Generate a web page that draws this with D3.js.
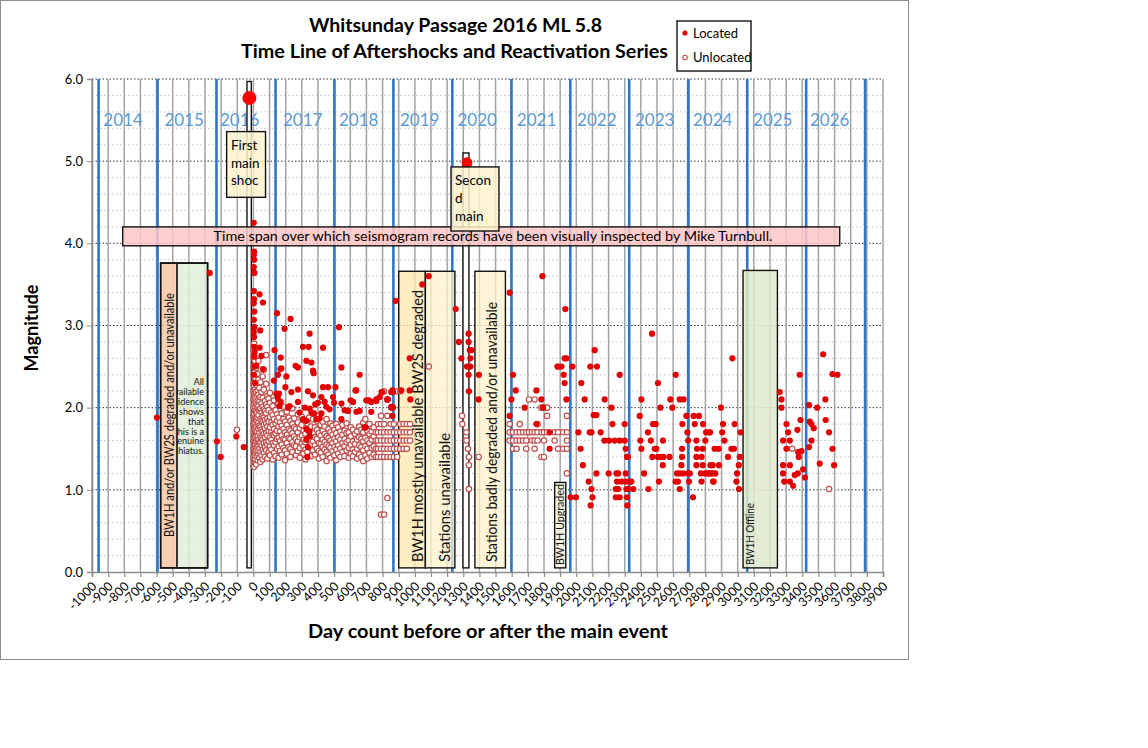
<!DOCTYPE html>
<html>
<head>
<meta charset="utf-8">
<script src="https://cdn.jsdelivr.net/npm/d3@7"></script>
<style>
  body { margin: 0; background: #fff; }
  text { font-family: Lato, "Open Sans", sans-serif; }
</style>
</head>
<body>
<div id="chart"></div>
<script>
// ---- data ----
var xTicks = [-1000,-900,-800,-700,-600,-500,-400,-300,-200,-100,0,100,200,300,400,500,600,700,800,900,
  1000,1100,1200,1300,1400,1500,1600,1700,1800,1900,2000,2100,2200,2300,2400,2500,2600,2700,2800,2900,
  3000,3100,3200,3300,3400,3500,3600,3700,3800,3900];
var yTicks = [0,1,2,3,4,5,6];
var yMinor = [0.2,0.4,0.6,0.8,1.2,1.4,1.6,1.8,2.2,2.4,2.6,2.8,3.2,3.4,3.6,3.8,4.2,4.4,4.6,4.8,5.2,5.4,5.6,5.8];

// first day of each calendar year, counted from the main event
var yearStarts = [-959,-594,-229,137,502,867,1232,1598,1963,2328,2693,3059,3424,3789];
var yearLabels = ["2014","2015","2016","2017","2018","2019","2020","2021","2022","2023","2024","2025","2026"];
var yearLabelDays = [-808,-429,-85,305,652,1030,1386,1754,2127,2486,2845,3217,3570];

var mainShocks = [[-25,5.77],[1323,4.98]];

var located = [
  [-598,1.88],[-271,3.64],[-226,1.59],[-203,1.40],[-106,1.65],[-60,1.52],
  [2,4.25],[4,3.90],[3,3.86],[5,3.80],[2,3.71],[6,3.64],[3,3.42],[4,3.32],[2,3.27],[5,3.17],[3,3.07],
  [6,2.98],[2,2.92],[4,2.86],[3,2.74],[8,2.68],[5,2.62],[7,2.50],[3,2.40],[10,2.30],
  [38,3.38],[59,3.28],[42,2.94],[38,2.73],[49,2.63],[18,2.51],[59,2.47],
  [146,3.15],[230,3.08],[193,2.96],[131,2.70],[169,2.61],[173,2.48],[152,2.40],[198,2.25],[276,2.22],
  [348,2.90],[307,2.74],[342,2.74],[431,2.73],[328,2.57],[359,2.55],[261,2.51],[276,2.49],[369,2.45],
  [373,2.42],[545,2.49],[658,2.40],[530,2.98],[167,2.47],[204,2.38],[127,2.33],
  [431,2.25],[462,2.25],[338,2.20],[235,2.19],[508,2.25],[632,2.21],[793,2.19],[865,2.19],[142,2.17],
  [158,2.17],[493,2.13],[369,2.15],[421,2.13],[602,2.09],[617,2.07],[714,2.09],[730,2.07],[762,2.08],
  [782,2.13],[829,2.10],[276,2.07],[152,2.11],[169,2.07],[441,2.07],[499,2.06],[545,2.05],[383,2.04],
  [400,2.06],[224,2.02],[214,2.00],[162,2.02],[318,2.00],[348,1.99],[452,2.01],[472,1.98],[565,1.97],
  [586,1.96],[638,1.95],[658,1.96],[286,1.94],[359,1.94],[375,1.93],[421,1.93],[307,1.86],[328,1.84],
  [390,1.86],[410,1.87],[545,1.86],[689,1.76],[328,1.74],[348,1.71],[348,1.65],[328,1.61],[338,1.52],
  [334,1.40],[637,2.21],[699,2.09],[720,2.08],[761,2.10],[854,2.19],[854,2.01],[695,1.76],[730,1.95],
  [861,2.21],[861,2.01],
  [881,3.30],[799,2.19],[833,2.10],[854,2.00],[864,2.00],[861,1.90],[916,2.21],[968,2.21],[972,2.10],
  [968,2.60],[1046,3.50],[1086,3.60],
  [1253,3.20],[1273,2.80],[1288,2.60],[1333,2.90],[1333,2.80],[1340,2.70],[1350,2.70],[1344,2.60],
  [1323,2.50],[1344,2.50],[1333,2.40],[1335,2.20],[1397,2.40],[1395,2.10],
  [1587,3.40],[1608,2.40],[1625,2.21],[1598,2.10],[1587,1.90],[1680,2.00],[1753,2.21],[1784,2.10],
  [1790,3.60],[1753,1.80],[1835,1.70],[1835,1.50],[1794,2.00],[1883,2.50],
  [1932,3.20],[1939,2.60],[1928,2.60],[1887,2.50],[1908,2.50],[1922,2.40],[1928,2.30],[1939,2.10],
  [1976,2.50],[1965,0.91],[1998,0.91],[2031,2.30],[2052,2.10],[2013,1.70],[2027,1.50],[2041,1.30],
  [2077,1.10],[2094,1.01],[2100,0.91],[2089,0.81],[2114,2.70],[2087,2.50],[2128,2.50],[2108,1.91],
  [2125,1.91],[2083,1.70],[2094,1.70],[2151,1.70],[2125,1.20],[2176,2.10],[2174,1.60],[2203,1.60],
  [2218,2.00],[2224,1.80],[2201,1.20],[2249,1.20],[2259,1.20],[2269,2.40],[2238,1.60],[2269,1.60],
  [2300,1.60],[2252,1.10],[2280,1.10],[2306,1.10],[2327,1.10],[2341,1.10],[2245,1.01],[2259,1.01],
  [2310,1.01],[2320,1.01],[2353,1.01],[2245,0.91],[2269,0.91],[2314,0.91],[2316,0.81],[2300,1.80],
  [2306,1.50],[2314,1.40],[2320,1.40],[2306,1.20],
  [2393,1.90],[2403,2.10],[2397,1.60],[2403,1.50],[2420,1.20],[2444,1.70],[2462,1.60],[2471,1.40],
  [2447,1.01],[2469,2.90],[2475,1.80],[2492,1.80],[2486,1.50],[2496,1.50],[2506,2.30],[2521,2.00],
  [2506,1.40],[2527,1.40],[2540,1.40],[2536,1.30],[2537,1.60],[2512,1.10],[2578,1.40],[2583,2.10],
  [2595,2.00],[2616,2.40],[2641,2.10],[2665,2.10],[2657,1.80],[2655,1.50],[2655,1.40],[2651,1.30],
  [2641,1.20],[2624,1.20],[2662,1.20],[2616,1.10],[2630,1.10],[2641,1.01],
  [2682,1.90],[2688,1.70],[2693,1.60],[2693,1.20],[2703,1.20],[2698,1.10],[2723,0.91],[2727,1.90],
  [2760,1.90],[2734,1.80],[2785,1.80],[2744,1.60],[2748,1.50],[2783,1.50],[2744,1.40],[2776,1.40],
  [2744,1.30],[2783,1.30],[2772,1.20],[2776,1.10],[2804,1.70],[2829,1.70],[2799,1.60],[2799,1.20],
  [2820,1.20],[2841,1.20],[2861,1.20],[2851,1.10],[2845,1.30],[2896,2.00],
  [2967,2.60],[2909,1.80],[2981,1.80],[2821,1.70],[2904,1.70],[3017,1.70],[2918,1.60],[2857,1.50],
  [2882,1.50],[2961,1.50],[2977,1.50],[2940,1.40],[3013,1.40],[2831,1.30],[2883,1.30],[3007,1.30],
  [2816,1.20],[2837,1.20],[2996,1.20],[2847,1.10],[2992,1.10],[3008,1.01],
  [3260,2.19],[3271,2.10],[3271,2.00],[3302,1.80],[3312,1.70],[3281,1.60],[3323,1.60],[3302,1.50],
  [3281,1.30],[3323,1.30],[3281,1.20],[3288,1.10],[3323,1.10],[3343,1.05],[3353,1.18],[3372,1.20],
  [3370,1.73],[3389,1.85],[3384,2.40],[3374,1.46],[3395,1.47],[3378,1.40],[3405,1.25],[3417,1.15],
  [3442,2.03],[3446,1.83],[3457,1.80],[3471,1.75],[3457,1.60],[3442,1.52],[3492,2.00],[3508,1.32],
  [3529,2.65],[3543,2.10],[3545,1.85],[3566,1.70],[3587,2.41],[3618,2.40],[3587,1.50],[3597,1.30]
];

// unlocated events, grouped by day: [day, [magnitudes]]
var unlocatedByDay = [
  [-102,[1.73]],
  [1,[1.30,1.40,1.50,1.60,1.70,1.80,1.90,2.00,2.10,2.20,2.30,2.40,2.50,2.60,2.70]],
  [4,[1.28,1.36,1.47,1.55,1.63,1.74,1.83,1.92,2.04,2.15,2.26,2.38,2.51,2.63,2.78]],
  [8,[1.33,1.42,1.51,1.58,1.67,1.78,1.86,1.97,2.08,2.18,2.31,2.44,2.57]],
  [12,[1.37,1.45,1.55,1.64,1.72,1.81,1.89,2.01,2.12,2.23,2.36]],
  [16,[1.31,1.48,1.59,1.69,1.77,1.87,1.95,2.06,2.19,2.29,2.48]],
  [21,[1.41,1.52,1.62,1.71,1.84,1.93,2.03,2.14,2.27]],
  [26,[1.36,1.47,1.56,1.66,1.79,1.88,2.00,2.09,2.21,2.41]],
  [31,[1.43,1.53,1.61,1.74,1.82,1.91,2.02,2.16,2.34,2.57]],
  [37,[1.39,1.50,1.58,1.69,1.78,1.97,2.08,2.24]],
  [43,[1.34,1.46,1.57,1.65,1.76,1.86,1.99,2.13,2.31]],
  [50,[1.42,1.54,1.63,1.73,1.84,1.94,2.05,2.19]],
  [57,[1.37,1.49,1.61,1.71,1.82,1.90,2.01,2.12,2.38]],
  [64,[1.45,1.57,1.68,1.79,1.88,1.98,2.22,2.46]],
  [71,[1.40,1.52,1.64,1.75,1.85,1.96,2.08]],
  [79,[1.48,1.58,1.69,1.81,1.93,2.04,2.29,2.64]],
  [86,[1.38,1.55,1.66,1.77,1.87,2.01,2.14]],
  [94,[1.46,1.59,1.72,1.83,1.97,2.11]],
  [102,[1.42,1.53,1.64,1.76,1.89,2.06,2.18]],
  [111,[1.49,1.61,1.70,1.82,1.94]],
  [119,[1.37,1.57,1.67,1.79,1.91,2.02]],
  [128,[1.45,1.54,1.66,1.74,1.86,2.09]],
  [137,[1.41,1.58,1.69,1.81,1.97]],
  [146,[1.50,1.62,1.72,1.84,1.92]],
  [156,[1.39,1.53,1.64,1.77,1.88,2.05]],
  [165,[1.47,1.59,1.71,1.82]],
  [175,[1.43,1.55,1.66,1.78,1.93]],
  [186,[1.51,1.62,1.74,1.86,2.01]],
  [196,[1.36,1.48,1.61,1.70,1.83]],
  [207,[1.44,1.57,1.67,1.79,1.95]],
  [218,[1.52,1.63,1.74,1.88]],
  [229,[1.40,1.50,1.62,1.72,1.84]],
  [241,[1.46,1.58,1.69,1.80,1.99]],
  [252,[1.54,1.65,1.76,1.87]],
  [263,[1.42,1.53,1.62,1.74]],
  [275,[1.47,1.59,1.70,1.82,1.92]],
  [287,[1.39,1.51,1.64,1.75]],
  [299,[1.56,1.66,1.79,1.89]],
  [311,[1.44,1.53,1.61,1.72]],
  [322,[1.37,1.49,1.58,1.68,1.83]],
  [334,[1.46,1.63,1.73,1.81]],
  [346,[1.52,1.60,1.71,1.88]],
  [357,[1.41,1.55,1.67,1.77]],
  [369,[1.48,1.59,1.70,1.86]],
  [381,[1.43,1.54,1.64,1.76]],
  [393,[1.50,1.62,1.73,1.84]],
  [405,[1.38,1.47,1.57,1.69,1.90]],
  [417,[1.45,1.56,1.66,1.79]],
  [429,[1.40,1.52,1.61,1.72,1.83]],
  [441,[1.49,1.58,1.68,1.77]],
  [453,[1.35,1.46,1.55,1.65,1.86]],
  [465,[1.43,1.53,1.63,1.74]],
  [477,[1.39,1.51,1.60,1.70,1.81]],
  [489,[1.47,1.57,1.67,1.78]],
  [501,[1.42,1.52,1.62,1.73]],
  [513,[1.36,1.49,1.59,1.69,1.80]],
  [525,[1.44,1.54,1.64,1.76]],
  [538,[1.40,1.50,1.61,1.71]],
  [551,[1.46,1.57,1.67,1.79]],
  [564,[1.41,1.53,1.62,1.72]],
  [577,[1.48,1.58,1.69,1.81]],
  [590,[1.39,1.51,1.60,1.70]],
  [603,[1.44,1.55,1.65,1.76]],
  [616,[1.41,1.49,1.59,1.73]],
  [629,[1.46,1.56,1.68]],
  [642,[1.38,1.50,1.61,1.71]],
  [655,[1.43,1.54,1.64,1.77]],
  [668,[1.40,1.52,1.62,1.73]],
  [680,[1.35,1.48,1.59,1.70,1.82]],
  [693,[1.42,1.53,1.63,1.76,1.86]],
  [706,[1.38,1.50,1.60,1.72]],
  [719,[1.45,1.57,1.68,1.80]],
  [732,[1.40,1.51,1.61,1.71]],
  [745,[1.43,1.53,1.65,1.76]],
  [758,[1.40,1.50,1.60,1.70]],
  [771,[1.40,1.50,1.60,1.70,1.80]],
  [790,[0.70,1.40,1.50,1.60,1.70,1.80,1.90]],
  [810,[0.70,1.40,1.50,1.60,1.70,1.80,2.20]],
  [830,[0.90,1.40,1.50,1.60,1.70,1.90,2.10]],
  [850,[1.40,1.50,1.60,1.70,1.80]],
  [870,[1.40,1.50,1.60,1.70,1.80]],
  [890,[1.40,1.50,1.60,1.70,2.20]],
  [910,[1.50,1.60,1.70,1.80,2.20]],
  [930,[1.50,1.60,1.70,1.80]],
  [950,[1.50,1.60,1.70,1.80]],
  [970,[1.60,1.70,1.80]],
  [1086,[2.50]],
  [1292,[1.90]],[1294,[1.80]],[1319,[1.60,1.70]],[1329,[1.50]],[1335,[1.01,1.30,1.40]],[1395,[1.40]],
  [1587,[1.60,1.70,1.80]],[1608,[1.50,1.60,1.70]],[1630,[1.50,1.60,1.70]],[1650,[1.60,1.70,1.80]],
  [1670,[1.60,1.70]],[1690,[1.50,1.60,1.70]],[1707,[1.70,2.10]],[1725,[1.60,1.70]],
  [1742,[1.50,1.60,1.70,2.10]],[1760,[1.60,1.70,1.80]],[1784,[1.40,1.70,2.00]],
  [1800,[1.40,1.60,1.70,2.00]],[1819,[1.70,1.90,2.00]],[1866,[1.60,1.70]],[1887,[1.50,1.70]],
  [1918,[1.50,1.70]],[1942,[1.20,1.50,1.60,1.70,1.90]],
  [3337,[1.50]],[3566,[1.01]]
];

// ---- layout ----
var W = 1148, H = 748;
var x = d3.scaleLinear().domain([-1000, 3900]).range([92, 883]);
var y = d3.scaleLinear().domain([0, 6]).range([572, 79]);

var svg = d3.select("#chart").append("svg")
    .attr("width", W)
    .attr("height", H);

// outer chart frame
svg.append("rect")
    .attr("x", 0.5).attr("y", 0.5)
    .attr("width", 908).attr("height", 659)
    .attr("fill", "#fff")
    .attr("stroke", "#8c8c8c");

var plot = svg.append("g");

// horizontal grid
plot.selectAll(".minor").data(yMinor).enter().append("line")
    .attr("x1", x(-1000)).attr("x2", x(3900))
    .attr("y1", function(d){ return y(d); }).attr("y2", function(d){ return y(d); })
    .attr("stroke", "#c4c4c4").attr("stroke-width", 1)
    .attr("stroke-dasharray", "1.5,2.5");

plot.selectAll(".major").data(yTicks.slice(1)).enter().append("line")
    .attr("x1", x(-1000)).attr("x2", x(3900))
    .attr("y1", function(d){ return y(d); }).attr("y2", function(d){ return y(d); })
    .attr("stroke", "#333").attr("stroke-width", 1)
    .attr("stroke-dasharray", "1.5,2");

// vertical grid every 100 days
plot.selectAll(".vgrid").data(xTicks).enter().append("line")
    .attr("x1", function(d){ return x(d); }).attr("x2", function(d){ return x(d); })
    .attr("y1", y(0)).attr("y2", y(6))
    .attr("stroke", "#a3a3a3").attr("stroke-width", 1.5);

// year boundaries
plot.selectAll(".year").data(yearStarts).enter().append("line")
    .attr("x1", function(d){ return x(d); }).attr("x2", function(d){ return x(d); })
    .attr("y1", y(0)).attr("y2", y(6))
    .attr("stroke", "#2f77c6").attr("stroke-width", 2.6);

plot.selectAll(".ylab").data(yearLabels).enter().append("text")
    .attr("x", function(d, i){ return x(yearLabelDays[i]); })
    .attr("y", y(5.5) + 6)
    .attr("text-anchor", "middle")
    .attr("font-size", 17)
    .attr("fill", "#5b9bd5")
    .text(function(d){ return d; });

// axes
var xAxis = svg.append("g")
    .attr("transform", "translate(0," + y(0) + ")")
    .call(d3.axisBottom(x).tickValues(xTicks).tickSize(5).tickFormat(function(d){ return String(d); }));
xAxis.select(".domain").attr("stroke", "#8c8c8c").attr("stroke-width", 1.5);
xAxis.selectAll(".tick line").attr("stroke", "#8c8c8c").attr("stroke-width", 1.2);
xAxis.selectAll(".tick text")
    .attr("font-family", "Lato, sans-serif")
    .attr("font-size", 12.5)
    .attr("fill", "#000")
    .attr("text-anchor", "end")
    .attr("dy", null)
    .attr("y", 0)
    .attr("transform", "translate(5,15) rotate(-45)");

var yAxis = svg.append("g")
    .attr("transform", "translate(" + x(-1000) + ",0)")
    .call(d3.axisLeft(y).tickValues(yTicks).tickSize(5).tickFormat(d3.format(".1f")));
yAxis.select(".domain").attr("stroke", "#8c8c8c").attr("stroke-width", 1.5);
yAxis.selectAll(".tick line").attr("stroke", "#8c8c8c");
yAxis.selectAll(".tick text")
    .attr("font-family", "Lato, sans-serif")
    .attr("font-size", 13)
    .attr("fill", "#000")
    .attr("x", -9);

// ---- annotation boxes (under the points) ----
var notes = svg.append("g");

function box(x0, x1, m0, m1, fill, op) {
  return notes.append("rect")
      .attr("x", x(x0)).attr("y", y(m1))
      .attr("width", x(x1) - x(x0)).attr("height", y(m0) - y(m1))
      .attr("fill", fill).attr("fill-opacity", op)
      .attr("stroke", "#111").attr("stroke-width", 1.4);
}
function vtext(cx, bottom, str, size, len, anchor) {
  var t = notes.append("text")
      .attr("transform", "translate(" + cx + "," + bottom + ") rotate(-90)")
      .attr("text-anchor", anchor || "start")
      .attr("dominant-baseline", "middle")
      .attr("font-size", size)
      .attr("fill", "#111")
      .text(str);
  if (len) t.attr("textLength", len).attr("lengthAdjust", "spacingAndGlyphs");
  return t;
}

// pre-event hiatus: green box with note, brown box on top
box(-474, -284, 0.05, 3.76, "#e2efda", 0.85);
var hiatus = ["All", "available", "evidence", "shows", "that", "this is a", "genuine", "hiatus."];
notes.selectAll(".hiatus").data(hiatus).enter().append("text")
    .attr("x", 204)
    .attr("y", function(d, i){ return 385 + i * 9.9; })
    .attr("text-anchor", "end")
    .attr("font-size", 9)
    .attr("fill", "#111")
    .text(function(d){ return d; });
box(-575, -474, 0.05, 3.76, "#f8cbad", 0.92);
notes.append("rect")
    .attr("x", x(-575)).attr("y", y(3.76))
    .attr("width", x(-284) - x(-575)).attr("height", y(0.05) - y(3.76))
    .attr("fill", "none").attr("stroke", "#111").attr("stroke-width", 1.6);
vtext(170.5, 415, "BW1H and/or BW2S degraded and/or unavailable", 13, 244, "middle");

// main-shock marker columns
box(-40, -13, 0.05, 5.97, "#fff", 1);
box(1298, 1335, 0.05, 5.10, "#fff", 1);

box(900, 1065, 0.05, 3.66, "#ffe8b0", 0.75);
box(1065, 1248, 0.05, 3.66, "#fff2cc", 0.75);
box(1372, 1561, 0.05, 3.66, "#fff2cc", 0.75);
vtext(419, 562, "BW1H mostly unavailable BW2S degraded", 16, 272);
vtext(446, 562, "Stations unavailable", 16, 129);
vtext(493, 562, "Stations badly degraded and/or  unavailable", 15.5, 260);

box(1866, 1935, 0.05, 1.09, "#f2f2dc", 0.9);
vtext(561, 565, "BW1H Upgraded", 11, 81);
box(3033, 3246, 0.05, 3.67, "#dfeacb", 0.85);
vtext(751, 565, "BW1H Offline", 12, 62);

// ---- points ----
var unlocated = [];
unlocatedByDay.forEach(function(g){
  g[1].forEach(function(m){ unlocated.push([g[0], m]); });
});

svg.append("g").selectAll("circle").data(unlocated).enter().append("circle")
    .attr("cx", function(d){ return x(d[0]); })
    .attr("cy", function(d){ return y(d[1]); })
    .attr("r", 2.7)
    .attr("fill", "#fff")
    .attr("stroke", "#c0504d")
    .attr("stroke-width", 1.2);

svg.append("g").selectAll("circle").data(located).enter().append("circle")
    .attr("cx", function(d){ return x(d[0]); })
    .attr("cy", function(d){ return y(d[1]); })
    .attr("r", 3.1)
    .attr("fill", "#e30000");

svg.append("g").selectAll("circle").data(mainShocks).enter().append("circle")
    .attr("cx", function(d){ return x(d[0]); })
    .attr("cy", function(d){ return y(d[1]); })
    .attr("r", function(d, i){ return i === 0 ? 7 : 5.5; })
    .attr("fill", "#ff0000");

// ---- boxes drawn over the data ----
var over = svg.append("g");
over.append("rect")
    .attr("x", x(-810)).attr("y", y(4.20))
    .attr("width", x(3632) - x(-810)).attr("height", y(3.97) - y(4.20))
    .attr("fill", "#ffc7c7").attr("fill-opacity", 0.85)
    .attr("stroke", "#111").attr("stroke-width", 1.4);
over.append("text")
    .attr("x", 493).attr("y", 241)
    .attr("text-anchor", "middle")
    .attr("font-size", 14)
    .attr("textLength", 559).attr("lengthAdjust", "spacingAndGlyphs")
    .text("Time span over which seismogram records have been visually inspected by Mike Turnbull.");

function noteBox(x0, x1, m0, m1, lines, tx, ty, step) {
  over.append("rect")
      .attr("x", x(x0)).attr("y", y(m1))
      .attr("width", x(x1) - x(x0)).attr("height", y(m0) - y(m1))
      .attr("fill", "#fff2cc").attr("fill-opacity", 0.85)
      .attr("stroke", "#111").attr("stroke-width", 1.4);
  over.selectAll(null).data(lines).enter().append("text")
      .attr("x", tx)
      .attr("y", function(d, i){ return ty + i * step; })
      .attr("font-size", 13.5)
      .text(function(d){ return d; });
}
noteBox(-166, 75, 4.56, 5.36, ["First", "main", "shoc"], 231, 150, 17.5);
noteBox(1224, 1521, 4.15, 4.93, ["Secon", "d", "main"], 455, 185, 18);

// ---- legend ----
var lg = svg.append("g");
lg.append("rect")
    .attr("x", 677).attr("y", 21).attr("width", 74).attr("height", 50)
    .attr("fill", "#fff").attr("stroke", "#111").attr("stroke-width", 1.4);
lg.append("circle").attr("cx", 685).attr("cy", 33).attr("r", 2.6).attr("fill", "#e30000");
lg.append("circle").attr("cx", 685).attr("cy", 57.5).attr("r", 2.3)
    .attr("fill", "#fff").attr("stroke", "#c0504d").attr("stroke-width", 1.1);
lg.append("text").attr("x", 693).attr("y", 37.5).attr("font-size", 13).text("Located");
lg.append("text").attr("x", 693).attr("y", 62).attr("font-size", 13).text("Unlocated");

// ---- titles ----
svg.append("text")
    .attr("x", 455.5).attr("y", 32)
    .attr("text-anchor", "middle")
    .attr("font-size", 19).attr("font-weight", "bold")
    .attr("textLength", 293).attr("lengthAdjust", "spacingAndGlyphs")
    .text("Whitsunday Passage 2016 ML 5.8");
svg.append("text")
    .attr("x", 454.5).attr("y", 58)
    .attr("text-anchor", "middle")
    .attr("font-size", 19).attr("font-weight", "bold")
    .attr("textLength", 427).attr("lengthAdjust", "spacingAndGlyphs")
    .text("Time Line of Aftershocks and Reactivation Series");

svg.append("text")
    .attr("transform", "translate(38,328) rotate(-90)")
    .attr("text-anchor", "middle")
    .attr("font-size", 18).attr("font-weight", "bold")
    .attr("textLength", 87).attr("lengthAdjust", "spacingAndGlyphs")
    .text("Magnitude");
svg.append("text")
    .attr("x", 488).attr("y", 638)
    .attr("text-anchor", "middle")
    .attr("font-size", 18).attr("font-weight", "bold")
    .attr("textLength", 360).attr("lengthAdjust", "spacingAndGlyphs")
    .text("Day count before or after the main event");
</script>
</body>
</html>
